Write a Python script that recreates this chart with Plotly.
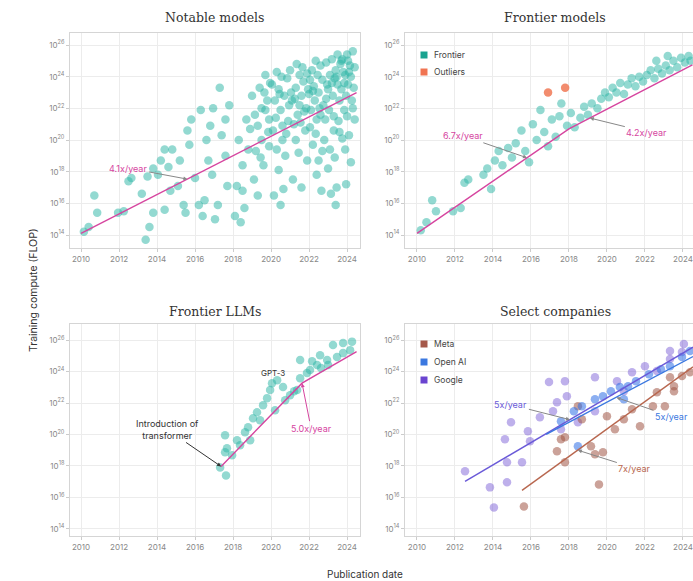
import plotly.graph_objects as go

W, H = 693, 581

# ---------------- DATA ----------------
years_ticks = [2010, 2012, 2014, 2016, 2018, 2020, 2022, 2024]
exp_ticks = [14, 16, 18, 20, 22, 24, 26]

notable_year = [2010.15, 2010.4, 2010.7, 2010.85, 2011.95, 2012.25, 2012.5, 2012.65, 2013.2, 2013.4, 2013.6, 2013.8,
                2013.5, 2013.8, 2014.05, 2014.2, 2014.4, 2014.6, 2014.8, 2014.7, 2014.4, 2015.1, 2015.2, 2015.4,
                2015.5, 2015.7, 2015.8, 2015.6, 2016.0, 2016.2, 2016.4, 2016.5, 2016.6, 2016.8, 2016.95, 2016.3,
                2016.7, 2016.9, 2017.05, 2017.2, 2017.4, 2017.6, 2017.7, 2017.8, 2017.6, 2017.3, 2018.1, 2018.4,
                2018.6, 2018.5, 2018.3, 2018.7, 2018.9, 2018.8, 2018.2, 2018.5,
                2019.0, 2019.1, 2019.3, 2019.3, 2019.4, 2019.5, 2019.6, 2019.7, 2019.7, 2019.8, 2019.9, 2019.2, 2019.5, 2019.85, 2019.95,
                2020.05, 2020.15, 2020.2, 2020.3, 2020.4, 2020.4, 2020.5, 2020.5, 2020.6, 2020.6, 2020.7, 2020.85, 2020.9, 2020.95, 2020.3, 2020.75, 2020.1,
                2021.0, 2021.1, 2021.15, 2021.3, 2021.3, 2021.4, 2021.5, 2021.5, 2021.6, 2021.7, 2021.8, 2021.9, 2021.2, 2021.45, 2021.65, 2021.85, 2021.95, 2021.05,
                2022.05, 2022.1, 2022.15, 2022.2, 2022.3, 2022.4, 2022.45, 2022.5, 2022.5, 2022.6, 2022.65, 2022.7, 2022.75, 2022.85, 2022.9, 2022.25, 2022.35, 2022.55, 2022.8, 2022.95, 2022.0,
                2023.0, 2023.1, 2023.1, 2023.2, 2023.3, 2023.4, 2023.4, 2023.45, 2023.5, 2023.5, 2023.6, 2023.65, 2023.05, 2023.25, 2023.35, 2023.55, 2023.7, 2023.15, 2023.75, 2023.8,
                2024.0, 2023.9, 2023.75, 2024.15, 2024.25, 2024.4, 2023.9, 2024.05, 2024.3, 2023.85, 2024.1, 2024.2, 2024.35, 2024.05, 2023.95,
                2019.15, 2019.45, 2019.65, 2019.9, 2020.25, 2020.45, 2020.55, 2020.8, 2021.25, 2021.35, 2021.55, 2021.75,
                2021.9, 2022.05, 2022.2, 2022.35, 2022.6, 2022.7, 2022.9, 2023.0, 2023.2, 2023.3, 2023.45, 2023.6,
                2023.7, 2023.85, 2024.0, 2024.1, 2024.3, 2024.4, 2023.95, 2022.4, 2021.6, 2020.65, 2024.2, 2023.35]
notable_exp = [14.2, 14.5, 16.5, 15.4, 15.4, 15.5, 17.4, 17.6, 16.6, 13.7, 14.5, 15.4,
               17.7, 18.2, 17.8, 18.7, 19.4, 18.3, 19.4, 16.8, 15.6, 17.1, 18.7, 15.9,
               15.4, 19.7, 21.3, 20.6, 17.6, 15.9, 15.2, 16.2, 20.0, 20.9, 22.0, 21.9,
               18.7, 17.8, 15.0, 15.9, 20.3, 19.0, 17.1, 22.2, 21.3, 23.3, 15.2, 14.8,
               15.7, 18.4, 20.0, 21.3, 20.7, 19.4, 17.1, 16.8,
               22.8, 17.5, 16.5, 20.9, 23.3, 20.0, 18.4, 21.9, 24.1, 22.5, 21.3, 19.3, 22.0, 20.5, 23.6,
               23.5, 16.5, 22.5, 19.4, 23.2, 18.1, 21.9, 15.9, 20.9, 20.0, 22.8, 23.9, 21.2, 22.2, 24.3, 19.0, 20.6,
               24.4, 22.5, 17.5, 23.3, 20.0, 21.6, 24.1, 22.2, 22.8, 23.7, 20.6, 18.7, 21.0, 19.2, 24.6, 22.0, 23.2, 23.0,
               23.8, 21.9, 24.4, 19.7, 22.5, 21.3, 24.1, 23.0, 18.7, 24.7, 16.8, 23.8, 22.2, 21.3, 24.9, 23.4, 20.4, 22.0, 20.0, 23.5, 22.9,
               23.2, 24.1, 19.4, 25.1, 20.6, 24.4, 15.9, 17.0, 23.5, 25.4, 22.5, 24.8, 21.9, 22.8, 23.9, 21.2, 23.2, 16.6, 20.1, 24.3,
               25.4, 24.1, 25.1, 24.7, 22.5, 21.3, 19.4, 23.5, 25.6, 21.9, 20.3, 24.0, 23.3, 25.0, 22.8,
               21.6, 18.9, 23.0, 19.6, 21.4, 22.9, 24.0, 20.4, 22.6, 24.8, 21.1, 21.8,
               24.2, 20.8, 23.1, 25.0, 21.6, 19.3, 22.6, 18.2, 23.6, 21.5, 24.0, 20.5,
               25.0, 23.6, 21.5, 24.3, 22.0, 24.6, 17.2, 17.8, 17.0, 16.9, 18.6, 18.9]
notable_fit_year = [2010.0, 2024.5]
notable_fit_exp = [14.1, 22.99]

frontier_year = [2010.2, 2010.5, 2010.8, 2011.0, 2011.9, 2012.3, 2012.5, 2012.7, 2013.5, 2013.7, 2013.9, 2014.1,
                 2014.3, 2014.5, 2014.8, 2015.0, 2015.2, 2015.5, 2015.7, 2015.9, 2016.1, 2016.3, 2016.5, 2016.7,
                 2016.9, 2017.1, 2017.3, 2017.5, 2017.6, 2017.9, 2018.1, 2018.3, 2018.6, 2018.8, 2019.0, 2019.2,
                 2019.5, 2019.7, 2019.9, 2020.1, 2020.3, 2020.5, 2020.7, 2020.9, 2021.1, 2021.3, 2021.5, 2021.7,
                 2021.9, 2022.1, 2022.3, 2022.5, 2022.7, 2022.9, 2023.1, 2023.3, 2023.5, 2023.7, 2023.9, 2024.1,
                 2024.3, 2024.4, 2023.2, 2022.6]
frontier_exp = [14.3, 14.8, 16.2, 15.5, 15.5, 15.7, 17.3, 17.5, 17.8, 18.2, 16.9, 18.7,
                19.3, 18.4, 19.5, 18.9, 19.8, 20.6, 19.3, 18.6, 21.0, 20.0, 21.9, 20.5,
                19.6, 21.3, 20.2, 21.5, 22.3, 20.9, 21.7, 20.8, 21.4, 22.1, 21.6, 22.3,
                22.0, 22.6, 23.0, 22.7, 23.3, 23.0, 23.6, 22.9, 23.5, 23.9, 23.4, 24.0,
                23.7, 24.1, 24.4, 23.9, 24.5, 24.2, 24.7, 24.4, 25.0, 24.6, 25.2, 24.9,
                25.3, 25.0, 25.3, 25.0]
outlier_year = [2016.9, 2017.8]
outlier_exp = [23.0, 23.3]
frontier_fit_year = [2010.0, 2018.0, 2024.5]
frontier_fit_exp = [14.1, 20.7, 24.75]

llm_year = [2017.32, 2017.63, 2017.58, 2017.68, 2017.58, 2018.21, 2018.37, 2018.63, 2018.79, 2019.05, 2019.26, 2019.58,
            2019.79, 2019.95, 2020.32, 2020.63, 2021.0, 2021.37, 2021.89, 2022.05, 2022.42, 2022.95, 2023.47, 2023.79,
            2024.16, 2023.79, 2024.26, 2023.26, 2022.58, 2021.53, 2020.74, 2020.21, 2019.42, 2017.95, 2018.9, 2021.53,
            2020.05, 2021.21, 2022.63, 2023.0, 2022.16]
llm_exp = [17.91, 17.40, 18.87, 19.12, 19.95, 19.63, 19.31, 20.14, 20.46, 21.03, 21.41, 21.86,
           22.31, 22.82, 23.45, 23.01, 22.50, 22.82, 23.90, 24.09, 24.41, 24.73, 24.92, 25.17,
           25.36, 25.81, 25.90, 25.68, 25.04, 23.58, 22.18, 21.54, 20.90, 18.68, 19.63, 24.73,
           23.26, 22.75, 24.22, 24.41, 24.66]
llm_fit_year = [2017.37, 2021.63, 2024.5]
llm_fit_exp = [17.97, 23.26, 25.27]

google_year = [2012.53, 2013.84, 2014.05, 2014.74, 2015.53, 2014.63, 2014.95, 2015.84, 2016.47, 2016.95, 2017.79, 2017.89,
               2017.37, 2018.47, 2019.37, 2020.53, 2019.37, 2020.89, 2021.32, 2022.0, 2022.63, 2023.32, 2023.95, 2023.32,
               2024.05, 2017.58, 2017.16, 2015.95, 2014.74]
google_exp = [17.66, 16.64, 15.36, 16.96, 18.23, 19.69, 20.78, 20.20, 21.10, 23.33, 23.39, 22.43,
              22.05, 20.78, 21.48, 23.39, 23.64, 22.75, 23.96, 24.34, 24.03, 24.79, 25.24, 25.30,
              25.75, 20.33, 21.48, 19.57, 18.23]
openai_year = [2018.26, 2018.68, 2019.37, 2019.79, 2020.21, 2020.68, 2021.11, 2021.53, 2022.21, 2022.84, 2023.32, 2023.95,
               2024.37, 2018.47, 2017.58, 2020.89]
openai_exp = [21.48, 21.80, 22.24, 22.43, 22.75, 23.01, 23.07, 23.39, 23.83, 24.15, 24.34, 24.92,
              25.30, 19.25, 20.84, 22.24]
meta_year = [2015.63, 2019.58, 2018.47, 2018.68, 2017.79, 2017.58, 2019.37, 2019.79, 2019.16, 2020.0, 2020.89, 2021.32,
             2021.74, 2022.42, 2023.05, 2022.63, 2023.53, 2023.32, 2023.95, 2023.53, 2024.37, 2020.42, 2017.79, 2017.37]
meta_exp = [15.43, 16.83, 21.80, 20.97, 19.82, 19.69, 18.74, 18.87, 19.25, 21.16, 20.97, 21.61,
            20.52, 21.80, 21.80, 22.69, 23.07, 23.64, 23.71, 22.75, 23.96, 20.33, 18.23, 18.93]
google_fit_year = [2012.53, 2024.53]
google_fit_exp = [17.02, 25.55]
openai_fit_year = [2016.8, 2024.53]
openai_fit_exp = [20.0, 24.95]
meta_fit_year = [2015.53, 2024.53]
meta_fit_exp = [16.45, 24.3]

# ---------------- STYLE ----------------
TEAL = "rgba(48,182,166,0.52)"
MAGENTA = "#d6459f"
ORANGE = "rgba(240,120,85,0.85)"
META = "rgba(160,85,70,0.55)"
OPENAI = "rgba(45,110,230,0.55)"
GOOGLE = "rgba(110,80,210,0.45)"
META_L = "#b8674f"
OPENAI_L = "#3b78e0"
GOOGLE_L = "#6a5ad8"
TICKFONT = dict(family="Inter", size=8, color="#888888")
GRID = "#ececec"
FRAME = "#d5d5d5"


def pxx(px):
    return px / W


def pxy(py):
    return 1 - py / H


def p10(vals):
    return [10.0 ** float(v) for v in vals]


fig = go.Figure()


def dots(x, e, color, ax, size=8.5):
    fig.add_trace(go.Scatter(x=x, y=p10(e), mode="markers", xaxis="x" + ax, yaxis="y" + ax,
                             marker=dict(size=size, color=color, line=dict(width=0)),
                             showlegend=False, hoverinfo="skip"))


def fitline(x, e, color, ax, width=1.4):
    fig.add_trace(go.Scatter(x=x, y=p10(e), mode="lines", xaxis="x" + ax, yaxis="y" + ax,
                             line=dict(color=color, width=width), showlegend=False, hoverinfo="skip"))


dots(notable_year, notable_exp, TEAL, "")
fitline(notable_fit_year, notable_fit_exp, MAGENTA, "")

dots(frontier_year, frontier_exp, TEAL, "2")
dots(outlier_year, outlier_exp, ORANGE, "2")
fitline(frontier_fit_year, frontier_fit_exp, MAGENTA, "2")

dots(llm_year, llm_exp, TEAL, "3")
fitline(llm_fit_year, llm_fit_exp, MAGENTA, "3")

dots(google_year, google_exp, GOOGLE, "4")
dots(meta_year, meta_exp, META, "4")
dots(openai_year, openai_exp, OPENAI, "4")
fitline(google_fit_year, google_fit_exp, GOOGLE_L, "4")
fitline(openai_fit_year, openai_fit_exp, OPENAI_L, "4")
fitline(meta_fit_year, meta_fit_exp, META_L, "4")


def xax(dom, rng, anchor):
    return dict(domain=dom, range=rng, anchor=anchor, tickvals=years_ticks, tickfont=TICKFONT,
                showgrid=True, gridcolor=GRID, gridwidth=1, zeroline=False,
                showline=True, linecolor=FRAME, linewidth=1, mirror=True,
                ticks="outside", ticklen=3, tickcolor="#cccccc")


def yax(dom, rng, anchor):
    return dict(domain=dom, type="log", range=rng, anchor=anchor,
                tickvals=p10(exp_ticks), ticktext=["10<sup>%d</sup>" % e for e in exp_ticks], tickfont=TICKFONT,
                showgrid=True, gridcolor=GRID, gridwidth=1, zeroline=False,
                showline=True, linecolor=FRAME, linewidth=1, mirror=True,
                ticks="outside", ticklen=3, tickcolor="#cccccc")


left = [pxx(70), pxx(360)]
right = [pxx(405), 1.0]
top = [pxy(248), pxy(33)]
bot = [pxy(536), pxy(324)]

fig.update_layout(
    width=W, height=H, autosize=False, showlegend=False,
    margin=dict(l=0, r=0, t=0, b=0),
    paper_bgcolor="white", plot_bgcolor="white",
    xaxis=xax(left, [2009.42, 2024.68], "y"),
    yaxis=yax(top, [13.18, 26.76], "x"),
    xaxis2=xax(right, [2009.37, 2024.53], "y2"),
    yaxis2=yax(top, [13.18, 26.76], "x2"),
    xaxis3=xax(left, [2009.42, 2024.68], "y3"),
    yaxis3=yax(bot, [13.55, 27.02], "x3"),
    xaxis4=xax(right, [2009.37, 2024.53], "y4"),
    yaxis4=yax(bot, [13.55, 27.02], "x4"),
)

# legends drawn as small squares + labels
legend_names = ["Frontier", "Outliers", "Meta", "Open AI", "Google"]
legend_colors = ["#1aa390", "#f07452", "#a5584a", "#3b78e0", "#6a44d0"]
legend_py = [55, 72, 344, 362, 380]
shapes = []
annotations = []
for name, col, py in zip(legend_names, legend_colors, legend_py):
    shapes.append(dict(type="rect", xref="paper", yref="paper", x0=pxx(420.5), x1=pxx(427.5),
                       y0=pxy(py + 3.5), y1=pxy(py - 3.5), fillcolor=col, line=dict(width=0)))
    annotations.append(dict(text=name, x=pxx(432), y=pxy(py), xref="paper", yref="paper", showarrow=False,
                            xanchor="left", yanchor="middle", font=dict(family="Inter", size=8.5, color="#444")))

TITLEFONT = dict(family="DejaVu Serif", size=12.5, color="#333")


def ptext(text, px, py, font, angle=0):
    return dict(text=text, x=pxx(px), y=pxy(py), xref="paper", yref="paper", showarrow=False,
                xanchor="center", yanchor="middle", textangle=angle, font=font)


annotations += [
    ptext("Notable models", 215, 18, TITLEFONT),
    ptext("Frontier models", 555, 18, TITLEFONT),
    ptext("Frontier LLMs", 215, 311, TITLEFONT),
    ptext("Select companies", 555, 311, TITLEFONT),
    ptext("Training compute (FLOP)", 33, 290, dict(family="Inter", size=10.5, color="#333"), -90),
    ptext("Publication date", 365, 574, dict(family="Inter", size=10, color="#333")),
]


def arrow_ann(text, x, e, ax, ay, xr, yr, color, acolor, size=9):
    return dict(text=text, x=x, y=e, xref=xr, yref=yr, ax=ax, ay=ay, showarrow=True,
                arrowhead=2, arrowsize=0.8, arrowwidth=1, arrowcolor=acolor,
                font=dict(family="Inter", size=size, color=color))


annotations += [
    arrow_ann("4.1x/year", 2015.6, 17.53, -59, -11, "x", "y", MAGENTA, "#888"),
    arrow_ann("6.7x/year", 2015.79, 18.88, -64, -22, "x2", "y2", MAGENTA, "#888"),
    arrow_ann("4.2x/year", 2019.1, 21.39, 57, 14, "x2", "y2", MAGENTA, "#888"),
    arrow_ann("Introduction of<br>transformer", 2017.37, 17.97, -54, -37, "x3", "y3", "#333", "#333"),
    dict(text="GPT-3", x=2020.1, y=23.9, xref="x3", yref="y3", showarrow=False,
         font=dict(family="Inter", size=8, color="#333")),
    arrow_ann("5.0x/year", 2021.63, 23.26, 9, 45, "x3", "y3", MAGENTA, MAGENTA),
    arrow_ann("5x/year", 2018.05, 20.94, -59, -15, "x4", "y4", GOOGLE_L, "#888"),
    arrow_ann("5x/year", 2020.5, 22.35, 55, 19, "x4", "y4", OPENAI_L, "#888"),
    arrow_ann("7x/year", 2018.47, 19.0, 57, 18, "x4", "y4", META_L, "#888"),
]
fig.update_layout(annotations=annotations, shapes=shapes)

fig.write_html("out.html", config={"displayModeBar": False},
               post_script="document.body.style.margin='0';")
